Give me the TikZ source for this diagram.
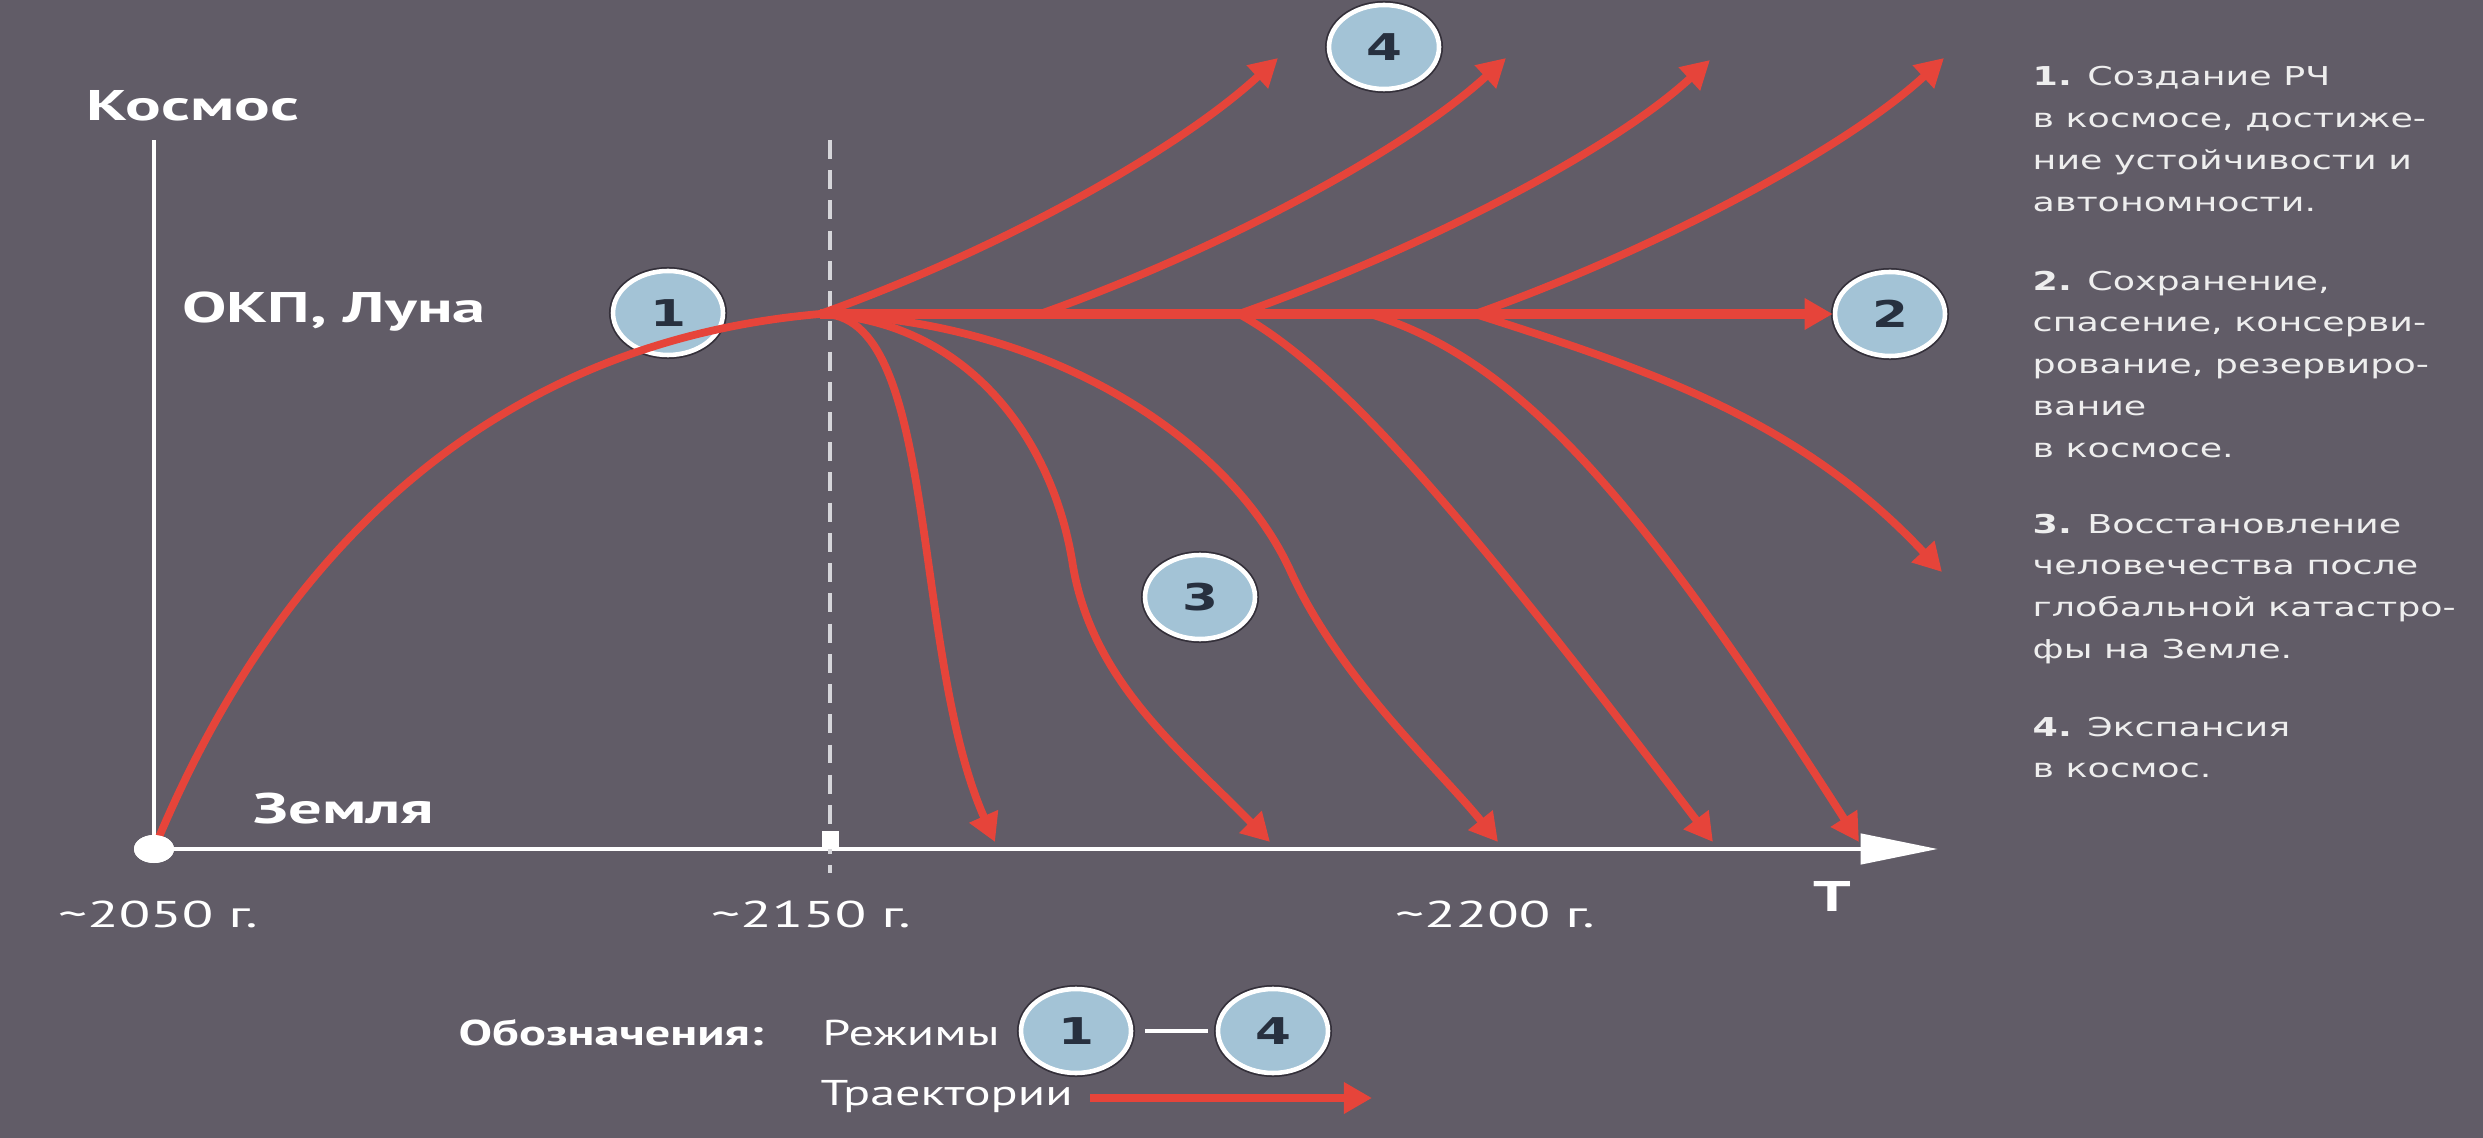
\documentclass[tikz,border=0pt]{standalone}
\usepackage{fontspec}
\usetikzlibrary{arrows.meta,shapes.geometric}

\newfontfamily\lblfont[FakeStretch=1.55]{PT Sans}
\newfontfamily\legfont[FakeStretch=1.4]{PT Sans}
\newfontfamily\txtfont[FakeStretch=1.4]{DejaVu Sans}

\definecolor{bgGray}{HTML}{615C67}
\definecolor{trajR}{HTML}{E6443A}
\definecolor{regBg}{HTML}{A3C3D6}
\definecolor{regInk}{HTML}{27303F}
\definecolor{ringDk}{HTML}{34303A}
\definecolor{noteW}{HTML}{EEEEEE}
\definecolor{dashW}{HTML}{D6D6DA}

\begin{document}
\begin{tikzpicture}[
    traj/.style={trajR, line width=2.2pt, -{Triangle[length=8pt,width=8.5pt]}},
    regime/.style={ellipse, minimum width=1.1cm, minimum height=0.84cm, inner sep=0pt,
      fill=regBg, draw=white, line width=1.3pt, preaction={draw=ringDk, line width=2.3pt},
      text=regInk, font=\txtfont\bfseries\fontsize{10.5}{12}\selectfont},
    axlabel/.style={text=white, font=\lblfont\bfseries\fontsize{12.2}{14}\selectfont},
    yearlabel/.style={text=white, font=\lblfont\fontsize{10.6}{12}\selectfont},
    leglabel/.style={text=white, font=\legfont\fontsize{10.2}{12}\selectfont},
    note/.style={text=noteW, align=left, anchor=north west, inner sep=0pt,
      font=\txtfont\fontsize{7.4}{11.9}\selectfont}
  ]
    % backdrop
    \fill[bgGray] (0,0) rectangle (24.83,-11.38);
    \useasboundingbox (0,0) rectangle (24.83,-11.38);

    % axes
    \node[ellipse, fill=white, minimum width=0.4cm, minimum height=0.28cm, inner sep=0pt] (o) at (1.54,-8.49) {};
    \coordinate (ytop) at (1.54,-1.40);
    \coordinate (xend) at (19.38,-8.49);
    \draw[white, line width=1.2pt] (o.center) -- (ytop);
    \draw[white, line width=1.4pt, -{Triangle[length=22pt,width=8.5pt]}] (o.center) -- (xend);

    % ~2150 marker
    \coordinate (dtop) at (8.30,-1.40);
    \coordinate (dbot) at (8.30,-8.73);
    \draw[dashW, line width=0.9pt, dash pattern=on 5.4pt off 3.2pt] (dtop) -- (dbot);
    \node[fill=white, minimum width=0.17cm, minimum height=0.18cm, inner sep=0pt] (tick) at (8.30,-8.40) {};

    % branch points and ends
    \coordinate (fork) at (8.20,-3.14);
    \coordinate (b1) at (10.40,-3.14);
    \coordinate (b2) at (12.39,-3.14);
    \coordinate (b3) at (13.70,-3.14);
    \coordinate (b4) at (14.75,-3.14);
    \coordinate (u1) at (12.78,-0.58);
    \coordinate (u2) at (15.06,-0.58);
    \coordinate (u3) at (17.10,-0.60);
    \coordinate (u4) at (19.44,-0.58);
    \coordinate (m2) at (10.72,-5.60);
    \coordinate (m3) at (12.90,-5.70);
    \coordinate (d1) at (9.95,-8.42);
    \coordinate (d2) at (12.70,-8.42);
    \coordinate (d3) at (14.98,-8.42);
    \coordinate (d4) at (17.13,-8.42);
    \coordinate (d5) at (18.59,-8.42);
    \coordinate (rr) at (19.42,-5.72);

    % regimes
    \node[regime] (r1) at (6.68,-3.13) {1};
    \node[regime] (r2) at (18.90,-3.14) {2};
    \node[regime] (r3) at (12.00,-5.97) {3};
    \node[regime] (r4) at (13.84,-0.47) {4};

    % rise to orbit
    \draw[trajR, line width=2.2pt] (o.center) .. controls (2.9,-5.2) and (5.2,-3.4) .. (fork);
    \draw[traj, line width=3pt] (fork) -- (r2.west);

    % expansion
    \draw[traj] (fork) .. controls +(1.8,0.64) and +(-1.0,-0.92) .. (u1);
    \draw[traj] (b1) .. controls +(1.8,0.64) and +(-1.0,-0.92) .. (u2);
    \draw[traj] (b2) .. controls +(1.8,0.64) and +(-1.0,-0.92) .. (u3);
    \draw[traj] (b4) .. controls +(1.8,0.64) and +(-1.0,-0.92) .. (u4);

    % return to Earth
    \draw[traj] (fork) .. controls (9.4,-3.1) and (9.1,-6.5) .. (d1);
    \draw[traj] (fork) .. controls (9.6,-3.2) and (10.5,-4.3) .. (m2) .. controls (10.9,-6.8) and (11.8,-7.5) .. (d2);
    \draw[traj] (fork) .. controls (10.5,-3.2) and (12.3,-4.4) .. (m3) .. controls (13.4,-6.8) and (14.4,-7.7) .. (d3);
    \draw[traj] (b2) .. controls (13.4,-3.7) and (14.6,-5.1) .. (d4);
    \draw[traj] (b3) .. controls (15.2,-3.6) and (16.4,-5.0) .. (d5);
    \draw[traj] (b4) .. controls (16.5,-3.7) and (18.0,-4.2) .. (rr);

    % origin dot on top
    \node[ellipse, fill=white, minimum width=0.4cm, minimum height=0.28cm, inner sep=0pt] (odot) at (o) {};

    % axis labels
    \node[axlabel] (space) at (1.93,-1.06) {Космос};
    \node[axlabel] (orbit) at (3.34,-3.12) {ОКП, Луна};
    \node[axlabel] (earth) at (3.44,-8.09) {Земля};
    \node[axlabel] (tlab) at (18.32,-8.96) {Т};
    \node[yearlabel] (y2050) at (1.58,-9.14) {\textasciitilde2050 г.};
    \node[yearlabel] (y2150) at (8.11,-9.14) {\textasciitilde2150 г.};
    \node[yearlabel] (y2200) at (14.95,-9.14) {\textasciitilde2200 г.};

    % legend
    \node[text=white, font=\legfont\bfseries\fontsize{10.2}{12}\selectfont] (legtitle) at (6.11,-10.33) {Обозначения:};
    \node[leglabel] (legmodes) at (9.11,-10.33) {Режимы};
    \node[regime] (lg1) at (10.76,-10.31) {1};
    \node[regime] (lg4) at (12.73,-10.31) {4};
    \draw[white, line width=1.4pt, shorten <=0.12cm, shorten >=0.08cm] (lg1) -- (lg4);
    \node[leglabel, anchor=west, inner sep=0pt] (legtraj) at (8.20,-10.97) {Траектории};
    \coordinate (lgs) at (10.90,-10.98);
    \coordinate (lge) at (13.72,-10.98);
    \draw[traj, line width=2.4pt] (lgs) -- (lge);

    % notes
    \node[note] (n1) at (20.32,-0.66) {\textbf{1.} Создание РЧ\\в космосе, достиже-\\ние устойчивости и\\автономности.};
    \node[note] (n2) at (20.32,-2.70) {\textbf{2.} Сохранение,\\спасение, консерви-\\рование, резервиро-\\вание\\в космосе.};
    \node[note] (n3) at (20.32,-5.13) {\textbf{3.} Восстановление\\человечества после\\глобальной катастро-\\фы на Земле.};
    \node[note] (n4) at (20.32,-7.16) {\textbf{4.} Экспансия\\в космос.};
  \end{tikzpicture}
\end{document}
